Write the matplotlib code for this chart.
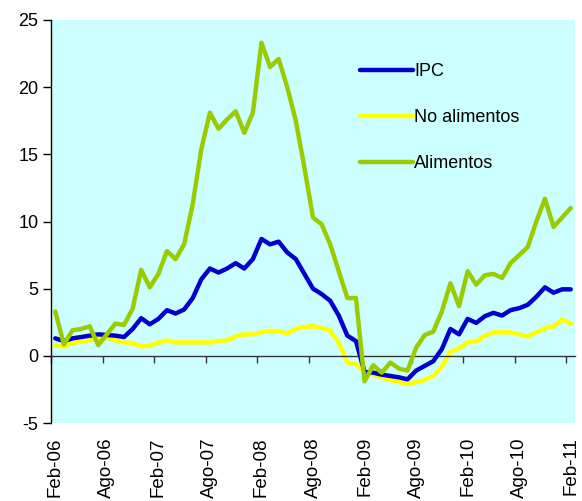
"""
IPC, alimentos y no alimentos: variación interanual (%), Feb-06 a Feb-11.
"""

import numpy as np
import matplotlib
matplotlib.use('Agg')
import matplotlib.pyplot as plt

plt.rcParams['font.family'] = ['Liberation Sans', 'DejaVu Sans']
plt.rcParams['axes.unicode_minus'] = False

# monthly data, Feb-06 .. Feb-11
ipc = [1.3, 1.1, 1.3, 1.4, 1.5, 1.6, 1.55, 1.5, 1.4, 2.0, 2.8, 2.35,
       2.75, 3.4, 3.15, 3.45, 4.3, 5.7, 6.5, 6.2, 6.5, 6.9, 6.5, 7.2,
       8.7, 8.3, 8.5, 7.7, 7.2, 6.1, 5.0, 4.6, 4.1, 3.0, 1.5, 1.1,
       -1.2, -1.25, -1.4, -1.5, -1.6, -1.75, -1.1, -0.75, -0.4, 0.5, 2.0, 1.6,
       2.75, 2.45, 2.95, 3.2, 3.0, 3.4, 3.55, 3.8, 4.4, 5.1, 4.7, 4.95,
       4.95]
no_alimentos = [0.8, 0.7, 0.95, 1.05, 1.15, 1.3, 1.35, 1.15, 1.0, 0.95, 0.7, 0.75,
                1.0, 1.15, 1.0, 1.0, 1.0, 1.0, 1.0, 1.1, 1.15, 1.45, 1.6, 1.6,
                1.75, 1.85, 1.85, 1.65, 2.0, 2.15, 2.2, 2.1, 1.85, 1.0, -0.5, -0.6,
                -1.2, -1.4, -1.6, -1.8, -1.95, -2.1, -1.95, -1.8, -1.5, -0.8, 0.3, 0.55,
                1.0, 1.05, 1.5, 1.75, 1.75, 1.75, 1.6, 1.45, 1.75, 2.05, 2.2, 2.7,
                2.4]
alimentos = [3.3, 0.85, 1.9, 2.0, 2.2, 0.8, 1.6, 2.4, 2.3, 3.5, 6.4, 5.1,
             6.1, 7.8, 7.2, 8.3, 11.3, 15.4, 18.1, 16.9, 17.6, 18.2, 16.6, 18.1,
             23.3, 21.5, 22.1, 20.0, 17.5, 14.0, 10.3, 9.8, 8.3, 6.3, 4.3, 4.3,
             -1.9, -0.7, -1.25, -0.5, -0.95, -1.1, 0.6, 1.55, 1.8, 3.3, 5.4, 3.7,
             6.3, 5.3, 6.0, 6.1, 5.8, 6.9, 7.5, 8.1, 10.0, 11.7, 9.6, 10.3,
             11.0]
tick_labels = ['Feb-06', 'Ago-06', 'Feb-07', 'Ago-07', 'Feb-08', 'Ago-08',
               'Feb-09', 'Ago-09', 'Feb-10', 'Ago-10', 'Feb-11']

x = np.arange(len(ipc))

fig = plt.figure(figsize=(5.82, 5.01), dpi=100)
ax = fig.add_axes([51 / 582, 1 - 423 / 501, 524 / 582, 403 / 501])
ax.set_facecolor('#CCFFFF')

line_kw = dict(linewidth=3.2, solid_joinstyle='round', solid_capstyle='round')
ax.plot(x, ipc, color='#0000CC', label='IPC', zorder=3, **line_kw)
ax.plot(x, no_alimentos, color='#FFFF00', label='No alimentos', zorder=2, **line_kw)
ax.plot(x, alimentos, color='#99CC00', label='Alimentos', zorder=4, **line_kw)

ax.set_xlim(-0.5, len(ipc) - 0.5)
ax.set_ylim(-5, 25)
ax.set_yticks(np.arange(-5, 26, 5))
ax.tick_params(axis='y', direction='out', length=6, width=1, labelsize=13, pad=3)

# category axis crosses at zero, labels stay at the bottom
for side in ['top', 'right']:
    ax.spines[side].set_visible(False)
ax.spines['bottom'].set_position(('data', 0))
ax.spines['bottom'].set_linewidth(1)
ax.spines['bottom'].set_color('#333333')
ax.spines['left'].set_linewidth(1)
ax.set_xticks(np.arange(-0.5, len(ipc), 6))
ax.set_xticklabels([])
ax.tick_params(axis='x', direction='out', length=5, width=1, color='#333333')

for i, lab in enumerate(tick_labels):
    ax.text(i * 6, -0.035, lab, rotation=90, ha='center', va='top',
            fontsize=13.5, transform=ax.get_xaxis_transform())

ax.legend(loc='upper left', bbox_to_anchor=(0.59, 0.893), frameon=False,
          fontsize=13, handlelength=2.9, handletextpad=0.1,
          labelspacing=1.6, borderpad=0, borderaxespad=0)

plt.savefig('out.png', dpi=100)
